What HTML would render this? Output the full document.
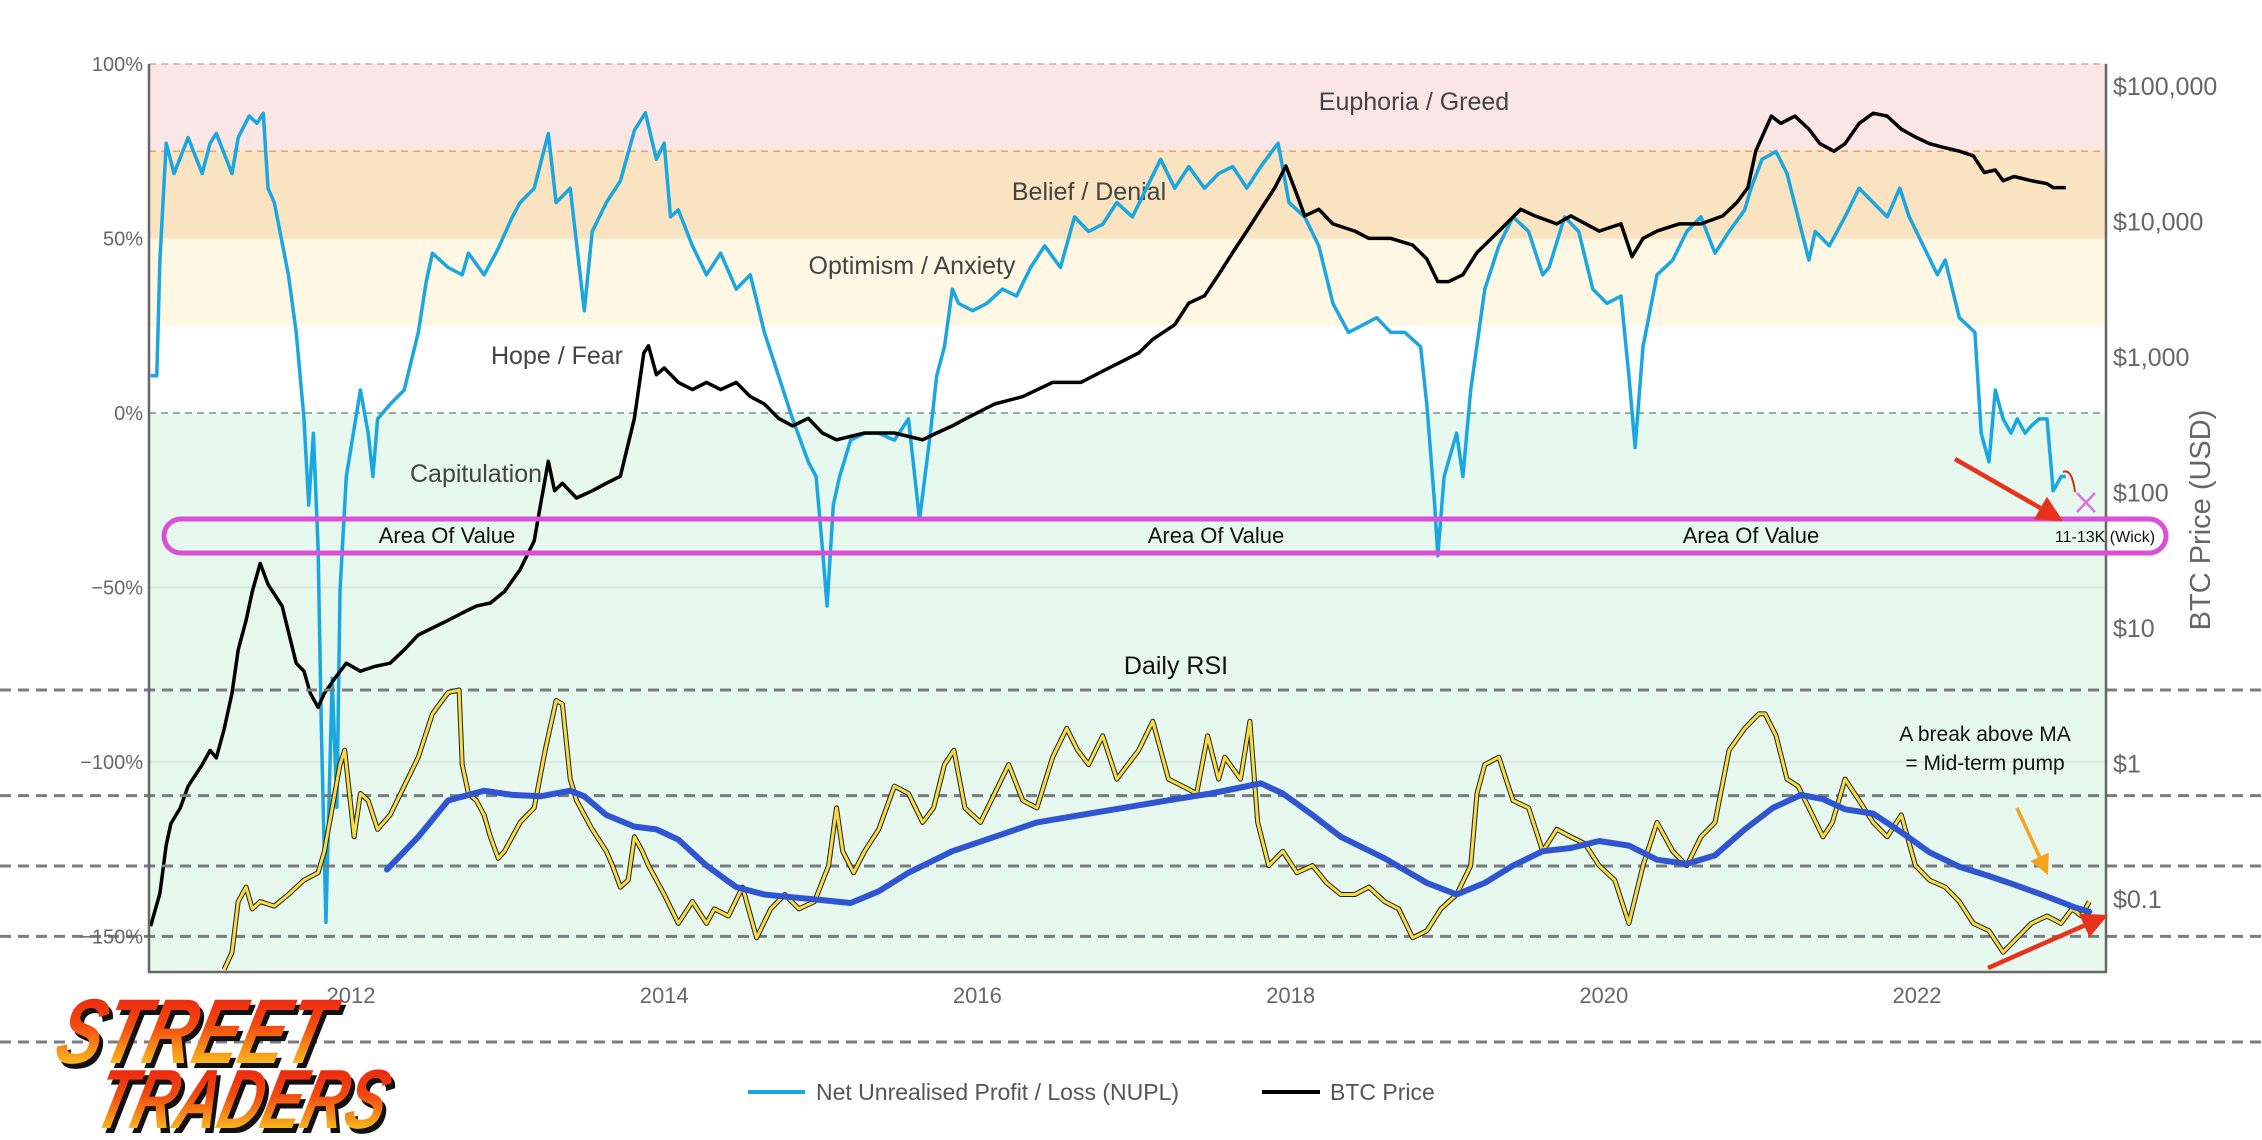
<!DOCTYPE html>
<html><head><meta charset="utf-8">
<style>html,body{margin:0;padding:0;background:#fff}svg{display:block}</style></head>
<body>
<svg id="chart" width="2262" height="1140" viewBox="0 0 2262 1140" xmlns="http://www.w3.org/2000/svg" font-family="'Liberation Sans', sans-serif">
<defs>
<linearGradient id="logoGrad" x1="0" y1="0" x2="0" y2="1">
<stop offset="0" stop-color="#e8140c"/><stop offset="0.45" stop-color="#f24a10"/><stop offset="0.8" stop-color="#f9b51e"/><stop offset="1" stop-color="#fde46a"/>
</linearGradient>
</defs>
<g id="bands"></g>
<g id="grid"></g>
<g id="zoneLabels"></g>
<g id="series"></g>
<g id="rsiLines"></g>
<g id="rsi"></g>
<g id="axes"></g>
<g id="annot"></g>
<g id="legend"></g>
<g id="logo" transform="translate(272,0) skewX(-14)">
<text x="45" y="1063" font-size="92" font-weight="bold" font-style="italic" fill="#111" textLength="270" lengthAdjust="spacingAndGlyphs" transform="translate(5,5)">STREET</text>
<text x="45" y="1063" font-size="92" font-weight="bold" font-style="italic" fill="url(#logoGrad)" textLength="270" lengthAdjust="spacingAndGlyphs">STREET</text>
<text x="100" y="1128" font-size="84" font-weight="bold" font-style="italic" fill="#111" textLength="290" lengthAdjust="spacingAndGlyphs" transform="translate(5,5)">TRADERS</text>
<text x="100" y="1128" font-size="84" font-weight="bold" font-style="italic" fill="url(#logoGrad)" textLength="290" lengthAdjust="spacingAndGlyphs">TRADERS</text>
</g>
</svg>
<script>
const nuplYears=[2010.72,2010.76,2010.78,2010.82,2010.87,2010.96,2011.05,2011.10,2011.14,2011.24,2011.28,2011.35,2011.40,2011.44,2011.47,2011.51,2011.60,2011.65,2011.70,2011.73,2011.76,2011.79,2011.81,2011.84,2011.88,2011.91,2011.93,2011.97,2012.06,2012.11,2012.14,2012.17,2012.25,2012.34,2012.43,2012.48,2012.52,2012.62,2012.71,2012.75,2012.85,2012.94,2013.03,2013.08,2013.17,2013.26,2013.31,2013.40,2013.49,2013.54,2013.63,2013.72,2013.81,2013.88,2013.95,2014.00,2014.04,2014.09,2014.18,2014.27,2014.36,2014.46,2014.55,2014.64,2014.73,2014.82,2014.92,2014.97,2015.01,2015.04,2015.08,2015.12,2015.19,2015.28,2015.37,2015.47,2015.56,2015.63,2015.70,2015.74,2015.79,2015.84,2015.88,2015.97,2016.06,2016.16,2016.25,2016.34,2016.43,2016.53,2016.62,2016.71,2016.80,2016.89,2016.99,2017.08,2017.17,2017.26,2017.35,2017.45,2017.54,2017.63,2017.72,2017.81,2017.92,2017.99,2018.09,2018.18,2018.27,2018.37,2018.46,2018.55,2018.64,2018.73,2018.83,2018.87,2018.92,2018.94,2018.98,2019.06,2019.10,2019.15,2019.24,2019.33,2019.42,2019.52,2019.61,2019.65,2019.75,2019.84,2019.93,2020.02,2020.11,2020.16,2020.20,2020.25,2020.34,2020.44,2020.53,2020.62,2020.71,2020.80,2020.90,2020.94,2021.01,2021.10,2021.17,2021.24,2021.31,2021.35,2021.44,2021.54,2021.63,2021.72,2021.81,2021.89,2021.95,2022.04,2022.13,2022.18,2022.27,2022.37,2022.41,2022.46,2022.50,2022.55,2022.60,2022.64,2022.69,2022.73,2022.78,2022.83,2022.87,2022.92,2022.95];
const nuplValues=[10.7,10.7,43.8,77.3,68.6,78.9,68.6,77.3,80.1,68.6,78.9,85.1,83,85.9,64.4,60.3,39.6,23.1,-1.7,-26.4,-5.8,-38.8,-88.4,-146,-76,-113,-51,-18.2,6.6,-5.8,-18.2,-1.7,2.5,6.6,23.1,37.6,45.8,41.7,39.6,45.8,39.6,47.1,56.2,60.3,64.4,80.1,60.3,64.4,29.3,52,60.3,66.5,81,86,72.7,77.3,56.2,58.2,47.9,39.6,45.8,35.5,39.6,23.1,10.7,-1.7,-14,-18.2,-38.8,-55.3,-26.4,-18.2,-7.8,-5.8,-5.8,-7.8,-1.7,-30.6,-5.8,10.7,19,35.5,31.4,29.3,31.4,35.5,33.5,41.7,47.9,41.7,56.2,52,54.1,60.3,56.2,64.4,72.7,64.4,70.6,64.4,68.6,70.6,64.4,70.6,77.3,60.3,56.2,47.9,31.4,23.1,25.2,27.3,23.1,23.1,19,2.5,-26.4,-40.9,-18.2,-5.8,-18.2,6.6,35.5,47.9,56.2,52,39.6,41.7,56.2,52,35.5,31.4,33.5,10.7,-9.9,19,39.6,43.8,52,56.2,45.8,52,58.2,64.4,72.7,74.9,68.6,56.2,43.8,52,47.9,56.2,64.4,60.3,56.2,64.4,56.2,47.9,39.6,43.8,27.3,23.1,-5.8,-14,6.6,-1.7,-5.8,-1.7,-5.8,-3.7,-1.7,-1.7,-22.3,-18.2,-18.2];
const priceYears=[2010.72,2010.78,2010.82,2010.85,2010.91,2010.96,2011.05,2011.10,2011.14,2011.19,2011.24,2011.28,2011.33,2011.37,2011.42,2011.47,2011.56,2011.65,2011.70,2011.74,2011.79,2011.83,2011.90,2011.97,2012.06,2012.15,2012.25,2012.34,2012.43,2012.52,2012.62,2012.71,2012.80,2012.89,2012.98,2013.08,2013.17,2013.21,2013.26,2013.30,2013.35,2013.44,2013.54,2013.63,2013.72,2013.81,2013.87,2013.90,2013.95,2014.00,2014.09,2014.18,2014.27,2014.36,2014.46,2014.55,2014.64,2014.73,2014.82,2014.92,2015.01,2015.10,2015.28,2015.47,2015.65,2015.74,2015.84,2015.93,2016.11,2016.29,2016.48,2016.66,2016.84,2017.03,2017.12,2017.26,2017.35,2017.45,2017.54,2017.63,2017.72,2017.81,2017.90,2017.97,2018.04,2018.09,2018.18,2018.27,2018.41,2018.50,2018.64,2018.78,2018.87,2018.94,2019.01,2019.10,2019.19,2019.33,2019.47,2019.56,2019.70,2019.79,2019.97,2020.11,2020.18,2020.25,2020.34,2020.48,2020.62,2020.76,2020.85,2020.92,2020.97,2021.01,2021.07,2021.13,2021.22,2021.31,2021.38,2021.47,2021.54,2021.63,2021.72,2021.81,2021.90,2021.99,2022.08,2022.18,2022.27,2022.36,2022.43,2022.50,2022.55,2022.62,2022.73,2022.83,2022.87,2022.95];
const priceValues=[0.063,0.11,0.25,0.36,0.47,0.68,0.98,1.25,1.1,1.8,3.3,6.9,11.4,18.6,30,21,14.5,5.5,4.8,3.3,2.6,3.3,4.3,5.5,4.8,5.2,5.5,6.9,8.9,10,11.4,12.9,14.5,15.3,18.6,27,44,81,170,103,117,91,103,117,132,353,1070,1210,740,830,650,575,650,575,650,510,450,353,310,353,275,245,275,275,245,275,310,353,450,510,650,650,830,1070,1350,1730,2500,2830,4050,5900,8500,12300,17800,25700,15800,11000,12300,9600,8500,7500,7500,6700,5300,3600,3600,4050,5900,8500,12300,11000,9600,11000,8500,9600,5500,7500,8500,9600,9600,11000,13800,17800,33000,42000,60000,53000,60000,48000,37500,33000,37500,53000,63000,60000,48000,42000,37500,35000,33000,30500,23000,24000,20000,21500,20000,19000,17800,17800];
const rsiYears=[2011.19,2011.24,2011.28,2011.33,2011.37,2011.42,2011.51,2011.60,2011.70,2011.79,2011.83,2011.88,2011.93,2011.96,2012.00,2012.02,2012.06,2012.11,2012.17,2012.25,2012.34,2012.43,2012.52,2012.62,2012.69,2012.71,2012.75,2012.80,2012.85,2012.89,2012.94,2012.98,2013.08,2013.17,2013.24,2013.31,2013.35,2013.40,2013.44,2013.54,2013.63,2013.67,2013.72,2013.77,2013.81,2013.86,2013.90,2014.00,2014.09,2014.18,2014.27,2014.32,2014.41,2014.50,2014.59,2014.68,2014.77,2014.86,2014.96,2015.05,2015.10,2015.14,2015.21,2015.28,2015.37,2015.47,2015.56,2015.65,2015.72,2015.79,2015.85,2015.92,2016.02,2016.11,2016.20,2016.29,2016.38,2016.48,2016.57,2016.64,2016.71,2016.80,2016.89,2017.03,2017.12,2017.22,2017.31,2017.40,2017.47,2017.54,2017.58,2017.68,2017.74,2017.79,2017.86,2017.95,2018.04,2018.14,2018.23,2018.32,2018.41,2018.50,2018.60,2018.69,2018.78,2018.87,2018.96,2019.06,2019.15,2019.19,2019.24,2019.33,2019.42,2019.52,2019.61,2019.70,2019.79,2019.88,2019.97,2020.07,2020.16,2020.25,2020.34,2020.44,2020.53,2020.62,2020.71,2020.80,2020.90,2020.99,2021.03,2021.10,2021.17,2021.24,2021.31,2021.40,2021.46,2021.54,2021.63,2021.72,2021.81,2021.90,2021.99,2022.08,2022.18,2022.27,2022.36,2022.46,2022.55,2022.64,2022.73,2022.83,2022.92,2022.99,2023.05,2023.10];
const rsiValues=[20.6,25.5,39.9,44,37.8,39.9,38.6,41.9,46,48.1,54.2,66.5,78.8,82.9,66.5,58.3,70.6,68.6,60.4,64.5,72.7,80.9,93.2,99.3,100,78.8,70.6,68.6,64.5,58.3,52.2,54.2,62.4,66.5,82.9,97,96,74.7,68.6,60.4,54.2,50.1,44,46,58.3,54.2,50.1,41.9,33.7,39.9,33.7,37.8,35.8,44,29.6,37.8,41.9,37.8,39.9,50.1,66.5,54.2,48.1,54.2,60.4,72.7,70.6,62.4,66.5,78.8,82.9,66.5,62.4,70.6,78.8,68.6,66.5,80.9,89.1,82.9,78.8,87,74.7,82.9,91.1,74.7,72.7,70.6,87,74.7,80.9,74.7,91.1,62.4,50.1,54.2,48.1,50.1,45.2,41.9,41.9,44,39.9,37.8,29.6,31.6,37.8,41.9,50.1,70.6,78.8,80.9,68.6,66.5,54.2,60.4,58.3,56.3,50.1,46,33.7,50.1,62.4,54.2,50.1,58.3,62.4,82.9,89.1,93.2,93.2,87,74.7,72.7,66.5,58.3,62.4,74.7,68.6,62.4,58.3,64.5,50.1,46,44,39.9,33.7,31.6,25.5,29.6,33.7,35.8,33.7,37.8,35.8,39.9];
const maYears=[2012.23,2012.43,2012.62,2012.85,2013.03,2013.21,2013.40,2013.49,2013.63,2013.81,2013.95,2014.09,2014.27,2014.46,2014.64,2014.82,2015.01,2015.19,2015.37,2015.56,2015.84,2016.11,2016.38,2016.66,2016.93,2017.21,2017.49,2017.68,2017.81,2017.95,2018.14,2018.32,2018.60,2018.87,2019.06,2019.24,2019.42,2019.61,2019.79,2019.97,2020.16,2020.34,2020.53,2020.71,2020.90,2021.08,2021.26,2021.40,2021.54,2021.72,2021.90,2022.08,2022.27,2022.45,2022.64,2022.82,2023.01,2023.10];
const maValues=[49,58.3,68.6,71.4,70.2,69.8,71.4,69.8,64.5,61.2,60.4,57.5,50.1,44,41.9,41.1,40.3,39.5,42.8,48.1,54.2,58.3,62.4,64.5,66.5,68.6,70.6,72.3,73.5,70.6,64.5,58.3,52.2,45.2,41.9,45.2,50.1,54.2,55.1,57.1,55.8,51.8,50.6,53,60.4,66.5,70.2,69,66.1,64.9,59.6,53.9,49.8,47.3,44.4,41.5,38.2,37];
const nuplTicks=[100,50,0,-50,-100,-150];
const nuplTickLabels=["100%","50%","0%","\u221250%","\u2212100%","\u2212150%"];
const priceTicks=[100000,10000,1000,100,10,1,0.1];
const priceTickLabels=["$100,000","$10,000","$1,000","$100","$10","$1","$0.1"];
const yearTicks=[2012,2014,2016,2018,2020,2022];
const rsiLevels=[100,70,50,30,0];

const NS="http://www.w3.org/2000/svg";
const L=149,R=2106,T=64,B=972;
const xS=y=>351+(y-2012)*156.6;
const yN=v=>413-v*3.49;
const yP=p=>86+(5-Math.log10(p))*135.5;
const yR=v=>1042-v*3.52;
function mk(parent,tag,attrs,txt){const e=document.createElementNS(NS,tag);for(const k in attrs)e.setAttribute(k,attrs[k]);if(txt!==undefined)e.textContent=txt;parent.appendChild(e);return e;}
const g=id=>document.getElementById(id);

const bands=g('bands');
[[100,75,'#fbe6e6'],[75,50,'#fae3c0'],[50,25,'#fdf7e4'],[25,0,'#ffffff'],[0,-160,'#e7f8ef']].forEach((b,i)=>{
 const y1=yN(b[0]),y2=i===4?B:yN(b[1]);
 const r=mk(bands,'rect',{x:L,y:y1,width:R-L,height:y2-y1,fill:b[2]});
 
 
});
const grid=g('grid');
[[100,'#e9a0a0'],[75,'#f0a060'],[0,'#6c9a7c']].forEach(d=>{
 const l=mk(grid,'line',{x1:L,x2:R,y1:yN(d[0]),y2:yN(d[0]),stroke:d[1],'stroke-width':1.5,'stroke-dasharray':'7 5'});
 
 
});
[-50,-100].forEach(v=>{
 const l=mk(grid,'line',{x1:L,x2:R,y1:yN(v),y2:yN(v),stroke:'#d6e6dc','stroke-width':1.5});
 
 
});
const zl=g('zoneLabels');
[["Euphoria / Greed",1414,110],["Belief / Denial",1089,200],["Optimism / Anxiety",912,274],["Hope / Fear",557,364],["Capitulation",476,482]].forEach(z=>{
 const t=mk(zl,'text',{x:z[1],y:z[2],'font-size':25,fill:'#444','text-anchor':'middle'},z[0]);
 
 
});
const ser=g('series');
const pathOf=(xs,ys,fy)=>xs.map((x,i)=>(i?'L':'M')+xS(x).toFixed(1)+','+fy(ys[i]).toFixed(1)).join('');
const np=mk(ser,'path',{d:pathOf(nuplYears,nuplValues,yN),fill:'none',stroke:'#1aa6e0','stroke-width':3.5,'stroke-linejoin':'round'});


const pp=mk(ser,'path',{d:pathOf(priceYears,priceValues,yP),fill:'none',stroke:'#000','stroke-width':3.5,'stroke-linejoin':'round'});


const rl=g('rsiLines');
rsiLevels.forEach(v=>{
 const l=mk(rl,'line',{x1:0,x2:2262,y1:yR(v),y2:yR(v),stroke:'#7a7c80','stroke-width':3,'stroke-dasharray':'11 7'});
 
 
});
const rs=g('rsi');
const rb=mk(rs,'path',{d:pathOf(rsiYears,rsiValues,yR),fill:'none',stroke:'#222','stroke-width':5,'stroke-linejoin':'round'});


const ry=mk(rs,'path',{d:pathOf(rsiYears,rsiValues,yR),fill:'none',stroke:'#f7dc45','stroke-width':3,'stroke-linejoin':'round'});


const ma=mk(rs,'path',{d:pathOf(maYears,maValues,yR),fill:'none',stroke:'#2f55d0','stroke-width':6,'stroke-linejoin':'round','stroke-linecap':'round'});


const ax=g('axes');
const a1=mk(ax,'path',{d:`M${L},${T}V${B}H${R}V${T}`,fill:'none',stroke:'#666','stroke-width':2.5});


nuplTicks.forEach((v,i)=>{
 const t=mk(ax,'text',{x:143,y:yN(v)+7,'font-size':20,fill:'#666','text-anchor':'end'},nuplTickLabels[i]);
 
 
});
priceTicks.forEach((p,i)=>{
 const t=mk(ax,'text',{x:2113,y:yP(p)+9,'font-size':25,fill:'#666'},priceTickLabels[i]);
 
 
});
yearTicks.forEach(y=>{
 const t=mk(ax,'text',{x:xS(y),y:1003,'font-size':22,fill:'#666','text-anchor':'middle'},String(y));
 
 
});
const yt=mk(ax,'text',{x:0,y:0,'font-size':29,fill:'#666','text-anchor':'middle',transform:'translate(2210,520) rotate(-90)'},'BTC Price (USD)');


const an=g('annot');
const box=mk(an,'rect',{x:164,y:519,width:2002,height:34,rx:17,fill:'none',stroke:'#d94fd9','stroke-width':5});


[447,1216,1751].forEach(x=>{
 const t=mk(an,'text',{x:x,y:543,'font-size':22,fill:'#111','text-anchor':'middle'},'Area Of Value');
 
 
});
const wk=mk(an,'text',{x:2105,y:542,'font-size':16,fill:'#111','text-anchor':'middle'},'11-13K (Wick)');


function arrow(x1,y1,x2,y2,col,w,hs,name){
 const a=Math.atan2(y2-y1,x2-x1);
 const bx=x2-hs*Math.cos(a),by=y2-hs*Math.sin(a);
 const l=mk(an,'line',{x1:x1,y1:y1,x2:bx,y2:by,stroke:col,'stroke-width':w});
 
 
 const p1=[bx+hs*0.5*Math.sin(a),by-hs*0.5*Math.cos(a)],p2=[bx-hs*0.5*Math.sin(a),by+hs*0.5*Math.cos(a)];
 const h=mk(an,'polygon',{points:`${x2},${y2} ${p1} ${p2}`,fill:col});
 
 
}
arrow(1955,459,2063,521,'#e8321e',4.5,26,'red-arrow-down');
arrow(1988,968,2108,915,'#e8321e',4.5,26,'red-arrow-up');
arrow(2017,808,2048,875,'#f5a21b',3.5,20,'orange-arrow');
const cx=mk(an,'path',{d:'M2077,493L2095,512M2095,493L2077,512',stroke:'#e070e0','stroke-width':2.5});


const cv=mk(an,'path',{d:'M2063,472Q2072,468 2075,492',stroke:'#d0301e','stroke-width':2,fill:'none'});


const dr=mk(an,'text',{x:1176,y:674,'font-size':25,fill:'#111','text-anchor':'middle'},'Daily RSI');


const n1=mk(an,'text',{x:1985,y:741,'font-size':21,fill:'#111','text-anchor':'middle'},'A break above MA');


const n2=mk(an,'text',{x:1985,y:770,'font-size':21,fill:'#111','text-anchor':'middle'},'= Mid-term pump');


const lg=g('legend');
const l1=mk(lg,'line',{x1:748,x2:805,y1:1092,y2:1092,stroke:'#1aa6e0','stroke-width':4});


const t1=mk(lg,'text',{x:816,y:1100,'font-size':23,fill:'#555'},'Net Unrealised Profit / Loss (NUPL)');


const l2=mk(lg,'line',{x1:1262,x2:1320,y1:1092,y2:1092,stroke:'#000','stroke-width':4});


const t2=mk(lg,'text',{x:1330,y:1100,'font-size':23,fill:'#555'},'BTC Price');


</script>
</body></html>
